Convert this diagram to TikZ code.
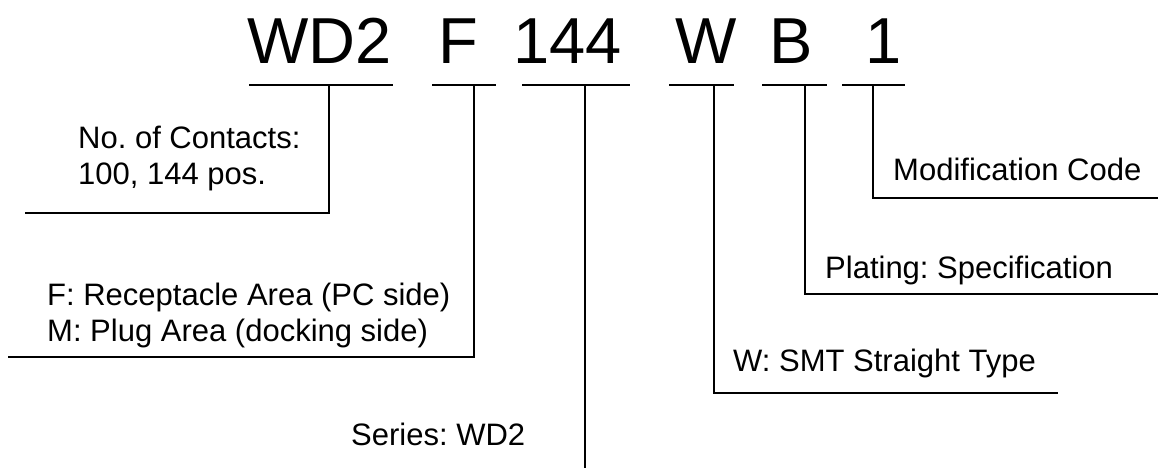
\documentclass[tikz,border=0pt]{standalone}
\usepackage{fontspec}
\setmainfont{Liberation Sans}
\frenchspacing

\tikzset{
  code/.style={inner sep=0pt, anchor=base west, font=\fontsize{65}{78}\selectfont},
  desc/.style={inner sep=0pt, anchor=base west, align=left, font=\fontsize{31}{36}\selectfont},
  wire/.style={line width=1.7pt}
}

\begin{document}
\begin{tikzpicture}[x=1pt,y=-1pt]
        \useasboundingbox (0,0) rectangle (1158,468);

        \node[code] (wd2)  at (247,64) {WD2};
        \node[code] (f)    at (438,64) {F};
        \node[code] (n144) at (513,64) {144};
        \node[code] (w)    at (675,64) {W};
        \node[code] (b)    at (769,64) {B};
        \node[code] (one)  at (865,64) {1};

        % base of a two-line node sits on its last line
        \node[desc] (contacts) at (78,184)  {No. of Contacts:\\100, 144 pos.};
        \node[desc] (side)     at (47,341)  {F: Receptacle Area (PC side)\\M: Plug Area (docking side)};
        \node[desc] (series)   at (351,445) {Series: WD2};
        \node[desc] (smt)      at (733,371) {W: SMT Straight Type};
        \node[desc] (plating)  at (825,278) {Plating: Specification};
        \node[desc] (modif)    at (893,180) {Modification Code};

        \coordinate (wd2a) at (249,85);  \coordinate (wd2b) at (393,85);
        \coordinate (fa)   at (432,85);  \coordinate (fb)   at (496,85);
        \coordinate (n144a) at (522,85); \coordinate (n144b) at (630,85);
        \coordinate (wa)   at (669,85);  \coordinate (wb)   at (734,85);
        \coordinate (ba)   at (762,85);  \coordinate (bb)   at (827,85);
        \coordinate (onea) at (842,85);  \coordinate (oneb) at (905,85);

        \draw[wire] (wd2a) -- (wd2b);
        \draw[wire] (fa) -- (fb);
        \draw[wire] (n144a) -- (n144b);
        \draw[wire] (wa) -- (wb);
        \draw[wire] (ba) -- (bb);
        \draw[wire] (onea) -- (oneb);

        \coordinate (wd2t) at (329,85);  \coordinate (wd2c) at (329,213);  \coordinate (wd2e) at (25,213);
        \coordinate (ft)   at (474,85);  \coordinate (fc)   at (474,357);  \coordinate (fe)   at (8,357);
        \coordinate (n144t) at (585,85); \coordinate (n144e) at (585,468);
        \coordinate (wt)   at (714,85);  \coordinate (wc)   at (714,393);  \coordinate (we)   at (1058,393);
        \coordinate (bt)   at (805,85);  \coordinate (bc)   at (805,294);  \coordinate (be)   at (1158,294);
        \coordinate (onet) at (873,85);  \coordinate (onec) at (873,198);  \coordinate (onee) at (1158,198);

        \draw[wire] (wd2t) -- (wd2c) -- (wd2e);
        \draw[wire] (ft) -- (fc) -- (fe);
        \draw[wire] (n144t) -- (n144e);
        \draw[wire] (wt) -- (wc) -- (we);
        \draw[wire] (bt) -- (bc) -- (be);
        \draw[wire] (onet) -- (onec) -- (onee);

\end{tikzpicture}
\end{document}
